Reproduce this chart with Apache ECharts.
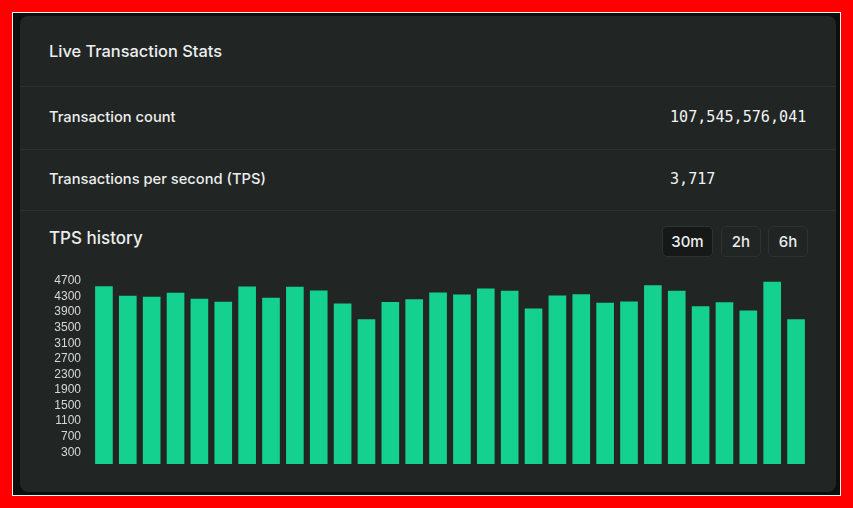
<!DOCTYPE html>
<html>
<head>
<meta charset="utf-8">
<script src="https://cdn.jsdelivr.net/npm/echarts@6/dist/echarts.min.js"></script>
<style>
  html, body { margin: 0; padding: 0; }
  body { width: 853px; height: 508px; background: #ff0000; position: relative; overflow: hidden; font-family: Inter, 'Noto Sans', sans-serif; color: #eceeed; }
  #frame { position: absolute; left: 12px; top: 12px; width: 827px; height: 482px; border: 1px solid #f4f4f4; background: #0d0f0f; }
  #panel { position: absolute; left: 20px; top: 16px; width: 816px; height: 476px; border-radius: 8px; background: #212524; }
  .sep { position: absolute; left: 20px; width: 816px; height: 1px; background: #2c3130; }
  .txt { position: absolute; white-space: nowrap; line-height: 1; }
  .big { font-size: 17px; font-weight: 500; }
  .row { font-size: 14.7px; font-weight: 500; }
  .num { font-family: 'DejaVu Sans Mono', monospace; font-size: 15.1px; color: #f2f4f3; }
  .btn { position: absolute; top: 226px; height: 31px; border: 1px solid #2e3332; border-radius: 5px; box-sizing: border-box; font-size: 15px; font-weight: 500; display: flex; align-items: center; justify-content: center; }
  #chart { position: absolute; left: 0; top: 0; width: 853px; height: 508px; }
</style>
</head>
<body>
<div id="frame"></div>
<div id="panel"></div>
<div class="sep" style="top:86px"></div>
<div class="sep" style="top:149px"></div>
<div class="sep" style="top:210px"></div>
<div class="txt big" style="left:49px;top:43px;font-size:16.4px">Live Transaction Stats</div>
<div class="txt row" style="left:49px;top:110px">Transaction count</div>
<div class="txt num" style="left:670px;top:110px">107,545,576,041</div>
<div class="txt row" style="left:49px;top:172px">Transactions per second (TPS)</div>
<div class="txt num" style="left:670px;top:172px">3,717</div>
<div class="txt big" style="left:49px;top:230px">TPS history</div>
<div class="btn" style="left:662px;width:51px;background:#161918">30m</div>
<div class="btn" style="left:721px;width:40px">2h</div>
<div class="btn" style="left:768px;width:40px">6h</div>
<div id="chart"></div>
<script>
var slots = ['1', '2', '3', '4', '5', '6', '7', '8', '9', '10', '11', '12', '13', '14', '15',
  '16', '17', '18', '19', '20', '21', '22', '23', '24', '25', '26', '27', '28', '29', '30']
var tps = [4565, 4316, 4290, 4393, 4239, 4162, 4557, 4265, 4547, 4455, 4121, 3717, 4159, 4231, 4403,
  4352, 4506, 4444, 3992, 4326, 4360, 4136, 4172, 4591, 4444, 4051, 4154, 3941, 4676, 3717]
var tickLabels = [300, 700, 1100, 1500, 1900, 2300, 2700, 3100, 3500, 3900, 4300, 4700]

var myChart = echarts.init(document.getElementById('chart'))
var option

option = {
  backgroundColor: 'transparent',
  animation: false,
  grid: {
    left: 92,
    right: 45,
    top: 277,
    bottom: 44
  },
  xAxis: {
    type: 'category',
    data: slots,
    axisLine: { show: false },
    axisTick: { show: false },
    axisLabel: { show: false }
  },
  yAxis: {
    type: 'value',
    min: 0,
    max: 4800,
    interval: 100,
    splitLine: { show: false },
    axisLine: { show: false },
    axisTick: { show: false },
    axisLabel: {
      margin: 11,
      color: '#d6d8d8',
      fontSize: 12,
      fontFamily: 'Liberation Sans, Arial, sans-serif',
      formatter: function (v) {
        return tickLabels.indexOf(v) >= 0 ? String(v) : ''
      }
    }
  },
  series: [
    {
      type: 'bar',
      data: tps,
      barCategoryGap: '26%',
      itemStyle: { color: '#14d190' }
    }
  ]
}

option && myChart.setOption(option)
</script>
</body>
</html>
